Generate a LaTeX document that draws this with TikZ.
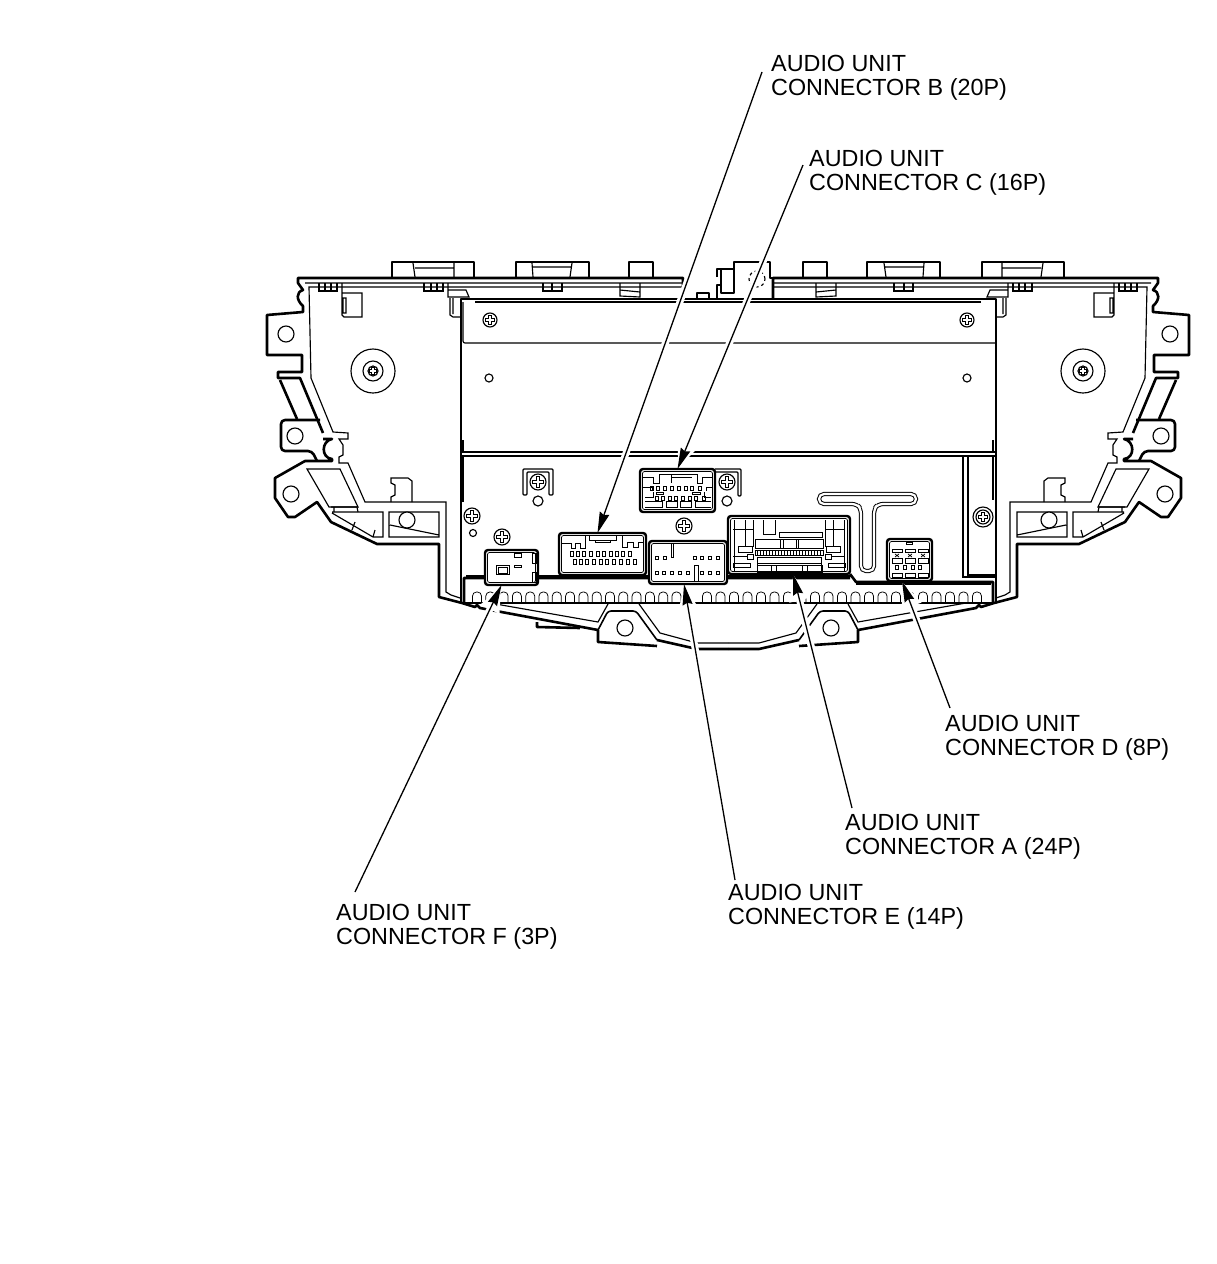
\documentclass[tikz,border=0pt]{standalone}
\usepackage{fontspec}
\setmainfont{Liberation Sans}
\usetikzlibrary{arrows.meta}
\tikzset{
	outline/.style={line width=2.6pt,line join=round},
	thinline/.style={line width=1.15pt},
	fineline/.style={line width=.75pt},
	twin/.style={line width=1pt,double=white,double distance=2.2pt},
	connbox/.style={draw,fill=white,line width=2.4pt,rounded corners=3pt,inner sep=0pt,outer sep=0pt},
	callout/.style={align=left,inner sep=0pt,font=\fontsize{23.35}{24}\selectfont},
	leader/.style={line width=1.3pt,-{Stealth[length=21pt,width=10pt,inset=2pt]},preaction={draw=white,line width=7pt,arrows=-{Stealth[length=27pt,width=19pt,inset=0pt]}}}
}
\newcommand{\drawscrew}[3]{
	\begin{scope}[shift={(#1,#2)}]
		\pgfmathsetmacro\arm{#3*.68}
		\draw[thinline] (0,0) circle[radius=#3pt];
		\draw[fineline] (-\arm,-1.3) -- (-1.3,-1.3) -- (-1.3,-\arm) -- (1.3,-\arm) -- (1.3,-1.3) -- (\arm,-1.3) -- (\arm,1.3) -- (1.3,1.3) -- (1.3,\arm) -- (-1.3,\arm) -- (-1.3,1.3) -- (-\arm,1.3) -- cycle;
	\end{scope}
}
\newcommand{\connframe}[1]{
	\draw[fineline,rounded corners=2pt] ([shift={(2.5,2.5)}]#1.north west) rectangle ([shift={(-2.5,-2.5)}]#1.south east);
}
\newcommand{\sidepanel}{
	% outer edge
	\draw[outline] (683,299) -- (683,278) -- (298,278) -- (298,283) -- (303,290) .. controls (296,292) and (296,300) .. (303,306) -- (303,312) -- (267,315) -- (267,355) -- (302,355) -- (302,372) -- (278,372) -- (278,378) -- (300,378) -- (323,433);
	\draw[outline] (323,439) -- (332,439) .. controls (321,441) and (321,458) .. (332,459) -- (332,461) -- (305,461) -- (275,478) -- (275,498) -- (288,517) -- (295,517) -- (317,502) -- (331,522) -- (377,544) -- (439,544) -- (439,597) -- (462,603) -- (475,607) -- (477,605) -- (480,608) -- (598,630);
	\draw[outline] (280,380) -- (297,419);
	\draw[outline,rounded corners=4pt] (320,420) -- (281,420) -- (281,451) -- (312,451) -- (317,461);
	% bottom edge
	\draw[outline,line width=1.6pt,rounded corners=3pt] (598,630) -- (608,611) -- (636,611) -- (657,640);
	\draw[outline] (598,630) -- (598,642) -- (657,646);
	\draw[outline] (657,640) -- (697,649) -- (728,649);
	\draw[thinline] (490,603) -- (598,622) -- (608,604);
	\draw[thinline] (639,604) -- (660,633) -- (697,643) -- (728,643);
	\draw[thinline] (625,628) circle[radius=8pt];
	% top tabs
	\draw[outline] (392,278) -- (392,262) -- (474,262) -- (474,278);
	\draw[outline] (516,278) -- (516,262) -- (589,262) -- (589,278);
	\draw[outline] (629,278) -- (629,262) -- (653,262) -- (653,278);
	\draw[thinline] (413,263) -- (415,277) (454,263) -- (454,277) (415,268) -- (454,268);
	\draw[thinline] (532,263) -- (533,277) (572,263) -- (570,277) (533,267) -- (571,267);
	% inner edge
	\draw[thinline] (683,283) -- (305,283) (683,287) -- (309,287) -- (311,378) -- (333,432) -- (348,433) -- (348,439) -- (339,439) -- (343,445) -- (343,455) -- (339,457) -- (339,463) -- (348,463) -- (365,502) -- (446,502) -- (446,592) -- (451,595) -- (460,598);
	% clips
	\draw[thinline] (319,283) -- (319,291) -- (337,291) -- (337,283) (325,283) -- (325,291) (331,283) -- (331,291);
	\draw[thinline] (342,283) -- (342,315) -- (344,317) -- (362,317) -- (362,293) -- (342,293) (343,298) -- (343,313) -- (346,313) -- (346,298) -- cycle;
	\draw[thinline] (424,283) -- (424,291) -- (443,291) -- (443,283) (431,283) -- (431,291) (437,283) -- (437,291);
	\draw[thinline] (448,283) -- (448,297) -- (469,297) -- (466,290) -- (448,290) (450,298) -- (450,315) -- (453,317) -- (461,317) (453,298) -- (453,314);
	\draw[thinline] (543,283) -- (543,291) -- (562,291) -- (562,283) (552,283) -- (552,291);
	\draw[thinline] (620,283) -- (620,296) -- (640,297) -- (640,283) (620,290) -- (640,292);
	% bosses and holes
	\draw[thinline] (286,334) circle[radius=8pt] (295,436) circle[radius=8pt] (291,494) circle[radius=8pt];
	\draw[thinline] (373,371) circle[radius=22pt] (373,371) circle[radius=10pt];
	\drawscrew{373}{371}{5}
	% lower bracket and braces
	\draw[thinline] (391,502) -- (391,497) -- (395,495) -- (395,485) -- (391,483) -- (391,478) -- (408,478) -- (412,481) -- (412,502);
	\draw[thinline] (307,469) -- (340,469) -- (358,507) -- (329,507) -- cycle;
	\draw[thinline] (331,507) -- (357,507) (334,507) -- (334,512) (357,507) -- (358,512);
	\draw[thinline] (389,512) rectangle (439,537) (390,525) -- (439,535);
	\draw[thinline,fill=white] (407,520) circle[radius=8pt];
	\draw[thinline] (332,512) -- (383,512) -- (383,537) -- (373,537) -- (332,513) (355,522) -- (352,530) (373,537) -- (375,530);
}
\begin{document}
\begin{tikzpicture}[x=1pt,y=-1pt]
	\useasboundingbox (0,0) rectangle (1216,1264);

	\sidepanel
	\begin{scope}[shift={(1456,0)},xscale=-1]
		\sidepanel
	\end{scope}

	% centre block on top
	\draw[outline] (697,299) -- (697,293) -- (709,293) -- (709,299);
	\draw[outline] (717,299) -- (717,285) -- (721,285) (717,277) -- (717,269) -- (721,269);
	\draw[outline] (721,293) -- (721,269) -- (734,269) -- (734,293) -- cycle;
	\draw[outline] (734,269) -- (734,262) -- (770,262) -- (770,278) -- (773,278);
	\draw[thinline,dashed] (757,279) circle[radius=8pt];
	% tail under the left lug
	\draw[outline] (537,622) -- (537,627) -- (580,628);

	% main housing
	\draw[outline] (461,299) rectangle (996,603);
	\draw[thinline] (475,302) -- (981,302);
	\draw[thinline,rounded corners=2pt] (463,302) -- (463,343) -- (996,343);
	\draw[thinline] (463,440) -- (463,452) -- (996,452) (463,502) -- (463,456) -- (996,456) (993,440) -- (993,452);
	\draw[thinline] (963,456) -- (963,577) -- (995,577) (968,456) -- (968,575) -- (995,575);
	\draw[thinline] (993,456) -- (993,500);
	\drawscrew{490}{320}{7}
	\drawscrew{967}{320}{7}
	\draw[thinline] (489,378) circle[radius=4pt] (967,378) circle[radius=4pt];
	\drawscrew{472}{516}{8}
	\drawscrew{502}{537}{8}
	\drawscrew{538}{482}{8}
	\drawscrew{684}{526}{8}
	\drawscrew{727}{482}{8}
	\drawscrew{983}{517}{7}
	\draw[thinline] (983,517) circle[radius=10pt];
	\draw[thinline] (473,533) circle[radius=3.5pt] (538,501) circle[radius=5pt] (727,501) circle[radius=5pt];
	\draw[thinline,rounded corners=1pt] (527,495) -- (523,495) -- (523,469) -- (553,469) -- (553,495) -- (549,495) -- (549,472) -- (527,472) -- cycle;
	\draw[thinline,rounded corners=1pt] (715,469) -- (741,469) -- (741,496) -- (738,496) -- (738,472) -- (715,472);
	\draw[twin,rounded corners=5pt] (819,494) -- (916,494) -- (916,504) -- (878,504) -- (874,509) -- (874,571) -- (861,571) -- (861,509) -- (857,504) -- (819,504) -- cycle;

	% terminal strip
	\draw[outline] (464,603) -- (464,578) -- (850,578) (850,574) -- (856,582) -- (993,582) -- (993,603);
	\draw[thinline] (466,576) -- (850,576) (856,584) -- (991,584);
	\foreach\i in {0,...,15}{
		\draw[fineline,rounded corners=4pt] (477+13.3*\i-4.5,602) -- (477+13.3*\i-4.5,592) -- (477+13.3*\i+4.5,592) -- (477+13.3*\i+4.5,602);
	}
	\foreach\i in {1,...,21}{
		\draw[fineline,rounded corners=4pt] (693.5+13.5*\i-4.5,602) -- (693.5+13.5*\i-4.5,592) -- (693.5+13.5*\i+4.5,592) -- (693.5+13.5*\i+4.5,602);
	}

	% connectors
	\node [connbox,minimum width=53pt,minimum height=35pt] (connF) at (511.5,567.5) {};
	\node [connbox,minimum width=87pt,minimum height=42pt] (connB) at (602.5,554) {};
	\node [connbox,minimum width=75pt,minimum height=43pt] (connC) at (677.5,490.5) {};
	\node [connbox,minimum width=78pt,minimum height=43pt] (connE) at (688,562.5) {};
	\node [connbox,minimum width=122pt,minimum height=58pt] (connA) at (789,545) {};
	\node [connbox,minimum width=45pt,minimum height=42pt] (connD) at (909.5,560) {};
	\foreach\conn in {connF,connB,connC,connE,connA,connD}{
		\connframe{\conn}
	}

	% connector F
	\draw[fineline] (496,565) rectangle (509,574) (498,567) rectangle (507,573);
	\draw[fineline] (514,553) rectangle (521,557) (514,565) rectangle (521,567);
	\draw[fineline] (532,553) rectangle (536,563) (532,572) rectangle (536,582);

	% connector B
	\draw[fineline] (562,543) -- (571,543) -- (571,548) -- (575,548) -- (575,543) -- (580,543) -- (580,548) -- (585,548) -- (585,536);
	\draw[fineline] (589,535) -- (589,540) -- (616,540) -- (616,535) (595,540) rectangle (610,542);
	\draw[fineline] (622,535) -- (622,547) -- (627,547) -- (627,542) -- (633,542) -- (633,547) -- (638,547) -- (638,542) -- (644,542);
	\foreach\x in {572,578,584,591,598,604,611,617,623,630}{
		\draw[fineline] (\x-1.5,551) rectangle ++(3,5);
	}
	\foreach\x in {575,581,587,594,601,607,614,621,628,635}{
		\draw[fineline] (\x-1.5,559) rectangle ++(3,5);
	}

	% connector C
	\draw[fineline] (643,477) -- (653,477) -- (653,483) -- (659,483) -- (659,474) -- (671,474) -- (671,483) (672,477) -- (692,477) (697,474) -- (697,483) -- (702,483) -- (702,477) -- (713,477) (659,474) -- (697,474);
	\draw[fineline] (643,487) -- (652,487) -- (652,491) (656,492) rectangle (663,494) (692,492) rectangle (700,494) (713,487) -- (706,487) -- (706,491) (645,497) -- (653,497) -- (653,492) (711,497) -- (704,497) -- (704,492);
	\foreach\x in {652,658,665,672,679,686,692,700}{
		\draw[fineline] (\x-1.5,486) rectangle ++(3,4);
	}
	\foreach\x in {657,663,670,676,683,690,696,704}{
		\draw[fineline] (\x-1.5,496) rectangle ++(3,4);
	}
	\draw[fineline] (645,501) -- (662,501) -- (662,507) -- (645,507) (666,501) rectangle (677,507) (680,501) rectangle (691,507) (695,507) -- (695,501) -- (711,501) (695,507) -- (711,507);

	% connector E
	\draw[fineline] (671,544) -- (671,557) -- (673,557) -- (673,544) (694,582) -- (694,565) -- (698,565) -- (698,582);
	\foreach\x in {657,665,695,702,710,718}{
		\draw[fineline] (\x-1.5,556.5) rectangle ++(3,3);
	}
	\foreach\x in {657,664,672,680,688,702,710,718}{
		\draw[fineline] (\x-1.5,571.5) rectangle ++(3,3);
	}

	% connector A
	\draw[fineline] (763,520) -- (763,534) -- (775,534) -- (775,520);
	\draw[fineline] (779,532) rectangle (822,537) (755,539) rectangle (823,548) (755,550) rectangle (823,555);
	\draw[fineline] (757,557) rectangle (821,563) (757,565) rectangle (822,572);
	\draw[fineline] (780,539) -- (780,548) (783,539) -- (783,548) (796,539) -- (796,548) (798,539) -- (798,548);
	\draw[fineline] (771,565) -- (771,572) (776,565) -- (776,572) (802,565) -- (802,572) (807,565) -- (807,572);
	\foreach\x in {757,760,...,822}{
		\draw[fineline] (\x,550) -- (\x,555);
	}
	\foreach\side in {1,-1}{
		\begin{scope}[shift={(789,0)},xscale=\side]
			\draw[fineline] (-55,520) -- (-55,572) (-56,529) -- (-36,529) (-44,520) -- (-44,547) (-36,520) -- (-36,547);
			\draw[fineline] (-51,546) rectangle (-37,552) (-42,554) rectangle (-36,559) (-56,563) rectangle (-39,567) (-56,556) -- (-42,556) (-32,563) -- (-32,572);
		\end{scope}
	}

	% connector D
	\draw[fineline] (906,542) rectangle (912,544);
	\foreach\x in {892,905,918}{
		\draw[fineline] (\x,549.5) rectangle ++(10,3) (\x,558) rectangle ++(10,5) (\x,573) rectangle ++(10,4);
		\draw[fineline] (\x+3,554) -- (\x+7,557) (\x+7,554) -- (\x+3,557);
	}
	\foreach\x in {897,905,913,920}{
		\draw[fineline] (\x-1.5,565) rectangle ++(3,4);
	}

	% callouts
	\node [callout,anchor=north west] (labelB) at (771,55) {AUDIO UNIT\\CONNECTOR B (20P)};
	\node [callout,anchor=north west] (labelC) at (809,150) {AUDIO UNIT\\CONNECTOR C (16P)};
	\node [callout,anchor=north west] (labelD) at (945,715) {AUDIO UNIT\\CONNECTOR D (8P)};
	\node [callout,anchor=north west] (labelA) at (845,814) {AUDIO UNIT\\CONNECTOR A (24P)};
	\node [callout,anchor=north west] (labelE) at (728,884) {AUDIO UNIT\\CONNECTOR E (14P)};
	\node [callout,anchor=north west] (labelF) at (336,904) {AUDIO UNIT\\CONNECTOR F (3P)};

	\draw[leader] ([shift={(-9,17)}]labelB.north west) -- ([xshift=-5pt]connB.north);
	\draw[leader] ([shift={(-6,15)}]labelC.north west) -- (connC.north);
	\draw[leader] ([shift={(5,-7)}]labelD.north west) -- ([xshift=-7.5pt]connD.south);
	\draw[leader] ([shift={(7,-6)}]labelA.north west) -- ([xshift=4pt]connA.south);
	\draw[leader] ([shift={(7,-4)}]labelE.north west) -- ([xshift=-4pt]connE.south);
	\draw[leader] ([shift={(19,-12)}]labelF.north west) -- ([xshift=-10pt]connF.south);
\end{tikzpicture}
\end{document}
